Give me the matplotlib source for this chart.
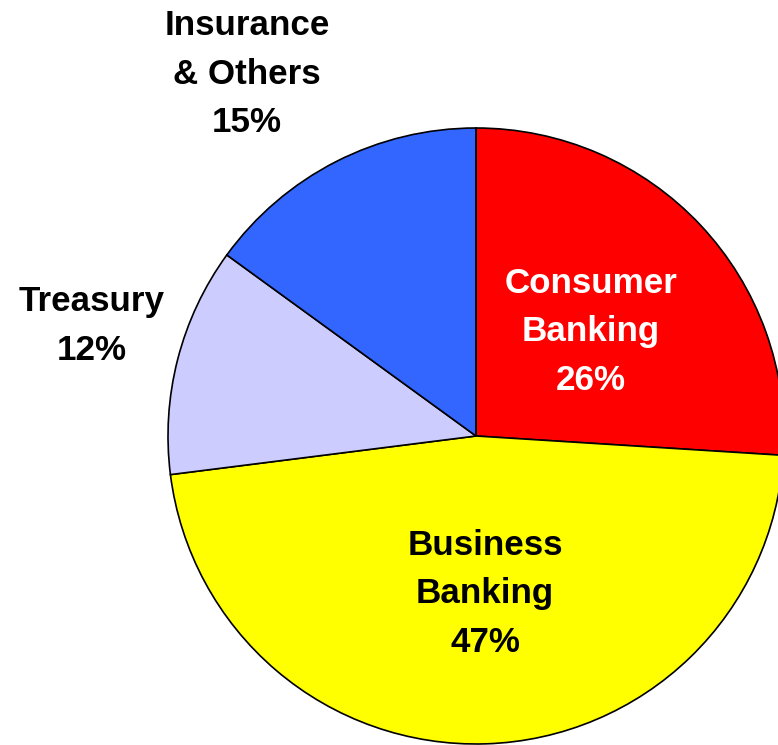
import matplotlib

matplotlib.use('Agg')
import matplotlib.pyplot as plt

segments = ["Consumer\nBanking", "Business\nBanking", "Treasury", "Insurance\n& Others"]
shares = [26, 47, 12, 15]
colors = ["#FF0000", "#FFFF00", "#CCCCFF", "#3366FF"]

plt.rcParams['font.family'] = ['Liberation Sans', 'DejaVu Sans']

fig = plt.figure(figsize=(7.78, 7.45), dpi=100)
ax = fig.add_axes([0, 0, 1, 1])

wedges, _ = ax.pie(shares, colors=colors, startangle=90, counterclock=False,
                   center=(476, 309), radius=308, frame=True,
                   wedgeprops=dict(edgecolor="black", linewidth=1.2))
ax.set_xlim(0, 778)
ax.set_ylim(0, 745)
ax.set_aspect('equal')
ax.axis('off')

# label positions (pixel coords, y up)
label_pos = [(591, 413), (485, 151), (92, 419), (247, 671)]
label_color = ["white", "black", "black", "black"]
for name, pct, (x, y), c in zip(segments, shares, label_pos, label_color):
    ax.text(x, y, f"{name}\n{pct}%", ha="center", va="center", fontsize=25.2,
            fontweight="bold", color=c, linespacing=1.6)

fig.savefig("out.png", dpi=100)
